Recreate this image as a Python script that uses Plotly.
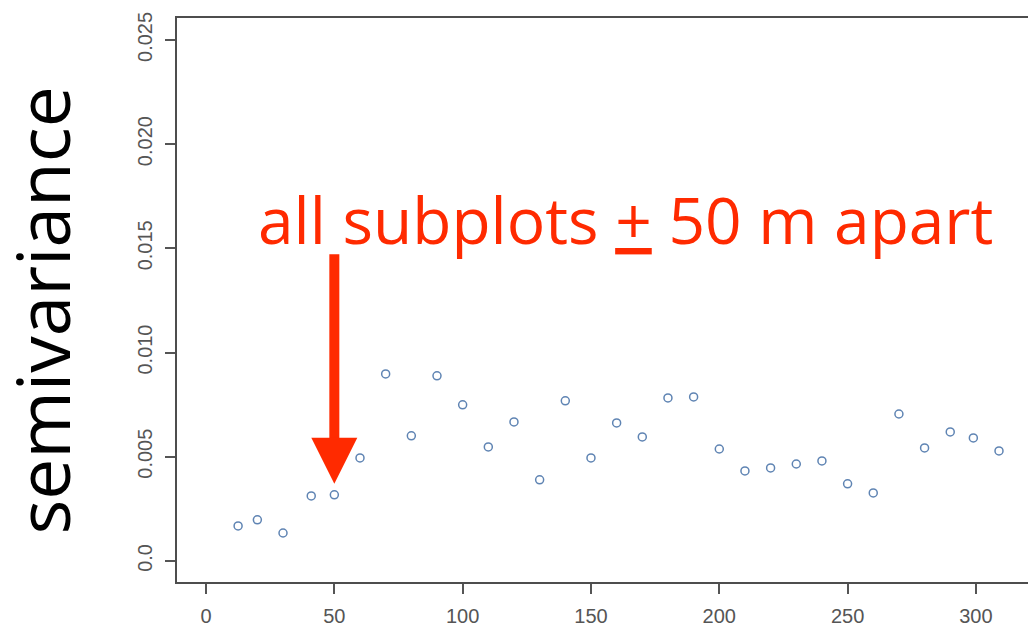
import plotly.graph_objects as go

# Empirical semivariogram: lag distance (m) and semivariance
lag = [12.5, 20, 30, 41, 50, 60, 70, 80, 90, 100, 110, 120, 130, 140, 150, 160,
       170, 180, 190, 200, 210, 220, 230, 240, 250, 260, 270, 280, 290, 299, 309]
semivariance = [0.00168, 0.00197, 0.00134, 0.00312, 0.00317, 0.00494, 0.00897,
                0.00600, 0.00888, 0.00749, 0.00547, 0.00667, 0.00389, 0.00768,
                0.00494, 0.00662, 0.00595, 0.00782, 0.00787, 0.00537, 0.00432,
                0.00446, 0.00465, 0.00480, 0.00370, 0.00326, 0.00705, 0.00542,
                0.00619, 0.00590, 0.00528]

x_ticks = [0, 50, 100, 150, 200, 250, 300]
y_ticks = [0.0, 0.005, 0.010, 0.015, 0.020, 0.025]
y_ticktext = ["0.0", "0.005", "0.010", "0.015", "0.020", "0.025"]

highlight_lag = 50
RED = "#ff2a00"
AXIS_GREY = "#555555"

fig = go.Figure()
fig.add_trace(go.Scatter(
    x=lag, y=semivariance, mode="markers",
    marker=dict(symbol="circle-open", size=8, color="#5f84b3",
                line=dict(width=1.5, color="#5f84b3")),
    showlegend=False, hoverinfo="x+y",
))

tick_font = dict(family="Liberation Sans, Arial, sans-serif", size=20, color=AXIS_GREY)

fig.update_xaxes(
    range=[-11.7, 320.3], tickvals=x_ticks, ticks="outside", ticklen=10,
    tickwidth=1.5, tickcolor=AXIS_GREY, tickfont=tick_font, ticklabelstandoff=5,
    showgrid=False, zeroline=False, showline=False,
)
fig.update_yaxes(
    range=[-0.00106, 0.0261], tickvals=y_ticks, ticktext=y_ticktext,
    ticks="outside", ticklen=10, tickwidth=1.5, tickcolor=AXIS_GREY,
    tickfont=tick_font, tickangle=-90, ticklabelstandoff=5,
    showgrid=False, zeroline=False, showline=False,
)

# plot frame (right edge runs past the page)
fig.add_shape(type="rect", xref="paper", yref="paper", x0=0, x1=1.05, y0=0, y1=1,
              line=dict(color="#4d4d4d", width=2), layer="above")

# arrow pointing at the 50 m lag
hl_y = semivariance[lag.index(highlight_lag)]
fig.add_annotation(
    x=highlight_lag, y=hl_y, xref="x", yref="y", text="",
    showarrow=True, ax=0, ay=-242, arrowcolor=RED, arrowwidth=10,
    arrowhead=2, arrowsize=0.92, standoff=11,
)

fig.add_annotation(
    xref="paper", yref="paper", x=0.528, y=0.643, xanchor="center", yanchor="middle",
    text="all subplots <u>+</u> 50 m apart", showarrow=False,
    font=dict(family="Open Sans", size=64, color=RED),
)

fig.add_annotation(
    xref="paper", yref="paper", x=-0.158, y=0.482, xanchor="center", yanchor="middle",
    text="semivariance", textangle=-90, showarrow=False,
    font=dict(family="Open Sans", size=73, color="black"),
)

fig.update_layout(
    width=1028, height=628,
    margin=dict(l=176, r=0, t=17, b=45),
    paper_bgcolor="white", plot_bgcolor="white",
)

fig.write_html("out.html")
